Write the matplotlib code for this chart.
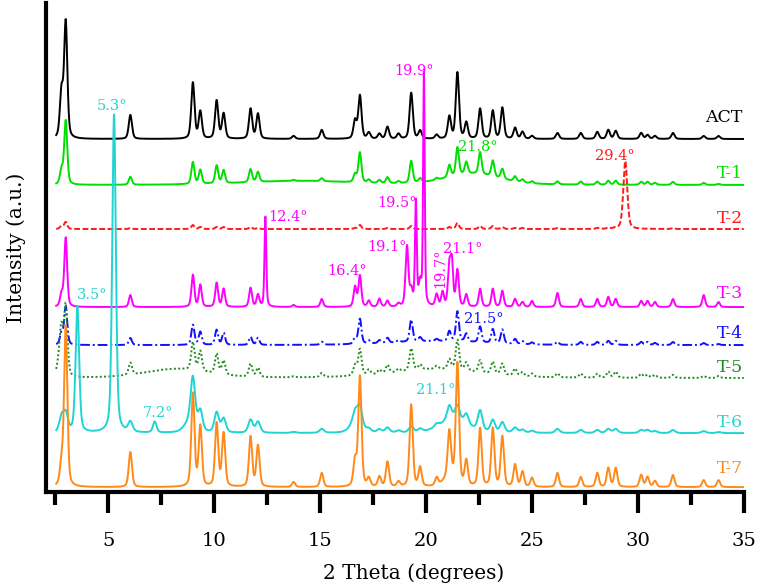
import numpy as np
import matplotlib
matplotlib.use('Agg')
import matplotlib.pyplot as plt
from matplotlib.ticker import MultipleLocator

# ---------------- data ----------------
two_theta = np.arange(2.55, 35.0, 0.01)

# shared reflection positions (degrees 2-theta)
peak_pos = [2.8, 3.0, 6.05, 9.0, 9.35, 10.12, 10.45, 11.72, 12.07, 13.75, 15.08, 16.65, 16.88,
            17.3, 17.8, 18.18, 18.7, 19.3, 19.72, 20.5, 21.1, 21.48, 21.9, 22.55, 23.15, 23.6,
            24.2, 24.55, 25.0, 26.2, 27.3, 28.08, 28.6, 28.95, 30.15, 30.45, 30.8, 31.65, 33.1, 33.8]

# peak heights per sample (a.u.)
act_h = [45, 116, 24, 56, 27, 38, 25, 30, 25, 3, 9, 18, 43, 6, 5, 12, 5, 46, 8, 4, 22, 66, 16,
         30, 28, 31, 11, 7, 3, 6, 6, 7, 9, 8, 6, 4, 3, 6, 3, 3]
t1_h = [14, 64, 8, 22, 14, 18, 13, 13, 10, 1, 3, 8, 30, 3, 3, 6, 2, 22, 4, 2, 12, 28, 12,
        22, 16, 10, 5, 3, 2, 3, 3, 3, 4, 4, 3, 3, 2, 3, 2, 1]
t2_h = [3, 7, 1, 4, 2, 2, 2, 2, 1, 0, 0, 1, 4, 0, 0, 1, 0, 3, 0, 0, 2, 6, 0,
        3, 3, 2, 1, 1, 0, 1, 0, 1, 1, 1, 0, 0, 0, 1, 0, 0]
t3_h = [12, 69, 12, 32, 22, 24, 18, 19, 12, 2, 8, 20, 31, 6, 8, 6, 3, 15, 22, 12, 40, 36, 12,
        18, 18, 16, 8, 5, 6, 14, 8, 8, 10, 8, 6, 6, 5, 8, 12, 5]
t4_h = [12, 38, 7, 20, 13, 15, 12, 8, 7, 0, 3, 6, 25, 3, 3, 5, 2, 22, 4, 2, 10, 30, 8,
        16, 14, 14, 5, 3, 2, 3, 3, 3, 4, 4, 3, 3, 2, 3, 2, 1]
t5_h = [40, 70, 12, 28, 20, 20, 14, 13, 9, 1, 4, 10, 26, 5, 4, 8, 3, 22, 5, 3, 10, 30, 8,
        12, 12, 11, 7, 4, 3, 4, 4, 4, 6, 6, 4, 3, 3, 3, 2, 2]
t6_h = [15, 18, 10, 48, 20, 20, 14, 13, 11, 1, 4, 10, 18, 3, 3, 5, 2, 6, 3, 3, 14, 14, 10,
        20, 12, 10, 5, 3, 2, 4, 3, 3, 4, 4, 3, 3, 2, 3, 2, 1]
t7_h = [20, 160, 35, 93, 60, 63, 53, 50, 41, 5, 14, 25, 110, 8, 10, 25, 5, 82, 19, 8, 45, 120, 25,
        58, 58, 50, 22, 15, 9, 14, 10, 14, 19, 19, 12, 10, 6, 12, 7, 7]

# sample-specific reflections / amorphous humps: position, height, width
t1_extra = ([14.0, 22.2], [4, 11], [6.0, 3.0])
t2_extra = ([29.4], [68], [0.22])
t3_extra = ([12.42, 19.1, 19.52, 19.9, 20.78, 21.22], [90, 60, 104, 232, 14, 40], [0.1, 0.16, 0.1, 0.09, 0.15, 0.14])
t4_extra = ([20.5], [4], [5.0])
t5_extra = ([8.2, 20.5, 2.7], [9, 9, 14], [3.5, 5.0, 0.25])
t6_extra = ([3.55, 5.28, 7.2, 8.85, 16.7, 21.3], [126, 318, 11, 10, 12, 14], [0.2, 0.2, 0.2, 0.6, 0.6, 1.5])
t7_extra = ([21.1], [10], [0.6])

labels = ['ACT', 'T-1', 'T-2', 'T-3', 'T-4', 'T-5', 'T-6', 'T-7']

# ---------------- style ----------------
colors = ['black', '#00e000', '#ff1a1a', '#ff00ff', '#1010ff', '#1f8a1f', '#22d3d3', '#ff8a1a']
offsets = [353, 307, 263, 185, 147, 114, 59, 5]
label_y = [374, 319, 274, 199, 159, 125, 70, 24]
widths = [0.18, 0.17, 0.17, 0.16, 0.17, 0.19, 0.25, 0.18]
dashes = [None, None, (3, 1.3), None, (5, 1.5, 1, 1.5), (1, 1.2), None, None]


def profile(x, pos, h, w):
    y = np.zeros_like(x)
    for p, a, fw in zip(pos, h, w):
        g = np.exp(-4 * np.log(2) * ((x - p) / fw) ** 2)
        l = 1.0 / (1 + 4 * ((x - p) / fw) ** 2)
        y += a * (0.6 * g + 0.4 * l)
    return y


heights = [act_h, t1_h, t2_h, t3_h, t4_h, t5_h, t6_h, t7_h]
extras = [None, t1_extra, t2_extra, t3_extra, t4_extra, t5_extra, t6_extra, t7_extra]

plt.rcParams['font.family'] = ['DejaVu Serif']

fig = plt.figure(figsize=(7.58, 5.88), dpi=100)
ax = fig.add_axes([0.0607, 0.163, 0.9208, 0.832])

for i in range(len(labels)):
    y = profile(two_theta, peak_pos, heights[i], [widths[i]] * len(peak_pos))
    if extras[i] is not None:
        ep, eh, ew = extras[i]
        y += profile(two_theta, ep, eh, ew)
    line, = ax.plot(two_theta, y + offsets[i], color=colors[i], lw=1.4)
    if dashes[i] is not None:
        line.set_dashes(dashes[i])
    ax.text(34.95, label_y[i], labels[i], color=colors[i], fontsize=12.5,
            ha='right', va='center')

# peak annotations
ann = [('5.3°', 5.2, 386, colors[6], 0), ('19.9°', 19.45, 421, colors[3], 0),
       ('21.8°', 22.45, 345, colors[1], 0), ('29.4°', 28.9, 336, colors[2], 0),
       ('12.4°', 13.5, 275, colors[3], 0), ('19.5°', 18.63, 289, colors[3], 0),
       ('19.1°', 18.16, 245, colors[3], 0), ('21.1°', 21.75, 243, colors[3], 0),
       ('19.7°', 20.66, 224, colors[3], 90), ('16.4°', 16.27, 221, colors[3], 0),
       ('3.5°', 4.24, 197, colors[6], 0), ('21.5°', 22.7, 173, colors[4], 0),
       ('7.2°', 7.36, 79, colors[6], 0), ('21.1°', 20.47, 102, colors[6], 0)]
for t, xx, yy, c, r in ann:
    ax.text(xx, yy, t, color=c, fontsize=10.5, ha='center', va='center', rotation=r)

ax.set_xlim(2.07, 35)
ax.set_ylim(0, 489)
ax.set_yticks([])
ax.xaxis.set_major_locator(MultipleLocator(5))
ax.xaxis.set_minor_locator(MultipleLocator(2.5))
ax.tick_params(axis='x', which='major', length=15, width=3, pad=14, labelsize=14)
ax.tick_params(axis='x', which='minor', length=9, width=3)
for s in ['top', 'right']:
    ax.spines[s].set_visible(False)
for s in ['left', 'bottom']:
    ax.spines[s].set_linewidth(3)
ax.set_xlabel('2 Theta (degrees)', fontsize=14.5)
ax.xaxis.set_label_coords(0.527, -0.145)
ax.set_ylabel('Intensity (a.u.)', fontsize=14.5)
ax.yaxis.set_label_coords(-0.029, 0.5)

plt.savefig('out.png', dpi=100)
